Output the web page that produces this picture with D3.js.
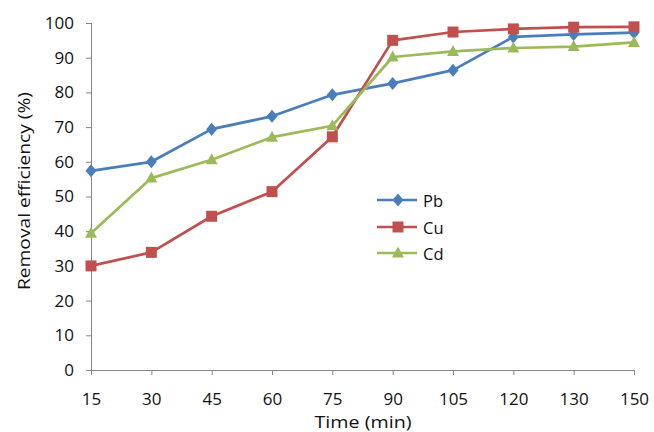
<!DOCTYPE html>
<html><head><meta charset="utf-8">
<script src="https://cdn.jsdelivr.net/npm/d3@7"></script>
<style>body{margin:0;background:#fff}svg{display:block}</style>
</head><body>
<script>
const times = ["15","30","45","60","75","90","105","120","130","150"];
const pb = [57.4, 60.0, 69.4, 73.1, 79.3, 82.6, 86.4, 96.0, 96.7, 97.2];
const cu = [30.0, 33.9, 44.3, 51.4, 67.2, 95.0, 97.4, 98.3, 98.8, 98.9];
const cd = [39.4, 55.3, 60.6, 67.1, 70.4, 90.2, 91.8, 92.8, 93.2, 94.4];
const yTicks = [0,10,20,30,40,50,60,70,80,90,100];
const seriesNames = ["Pb","Cu","Cd"];
const colors = ["#4A7EBB","#C0504D","#9BBB59"];
const seriesVals = [pb, cu, cd];

const diamond = { draw(ctx) { ctx.moveTo(0,-6.5); ctx.lineTo(5.5,0); ctx.lineTo(0,6.5); ctx.lineTo(-5.5,0); ctx.closePath(); } };
const square = { draw(ctx) { ctx.rect(-5.5,-5.5,11,11); } };
const triangle = { draw(ctx) { ctx.moveTo(0,-6.5); ctx.lineTo(6,4.5); ctx.lineTo(-6,4.5); ctx.closePath(); } };
const symbols = [diamond, square, triangle];

const W = 654, H = 432;
const svg = d3.select("body").append("svg").attr("width", W).attr("height", H);
const font = "'Open Sans', sans-serif";

const x = d3.scalePoint().domain(times).range([91, 634]).padding(0);
const y = d3.scaleLinear().domain([0, 100]).range([370, 23]);

const axisColor = "#868686";
const yAxis = svg.append("g").attr("transform", "translate(91,0)")
  .call(d3.axisLeft(y).tickValues(yTicks).tickSize(5).tickPadding(12).tickSizeOuter(0));
const xAxis = svg.append("g").attr("transform", "translate(0,370)")
  .call(d3.axisBottom(x).tickSize(5).tickPadding(18).tickSizeOuter(0));
[yAxis, xAxis].forEach(a => {
  a.selectAll("path, line").attr("stroke", axisColor).attr("stroke-width", 1);
  a.selectAll("text").attr("fill", "#111").style("font-family", font).style("font-size", "17px");
});
xAxis.select("path.domain").attr("d", "M91,0.5H634");
yAxis.select("path.domain").attr("d", "M0.5,23V370");

const line = d3.line().x((d, i) => x(times[i])).y(d => y(d));

seriesVals.forEach((vals, s) => {
  svg.append("path").datum(vals).attr("d", line)
    .attr("fill", "none").attr("stroke", colors[s]).attr("stroke-width", 2.7)
    .attr("stroke-linejoin", "round");
});
seriesVals.forEach((vals, s) => {
  svg.append("g").selectAll("path").data(vals).join("path")
    .attr("d", d3.symbol().type(symbols[s]))
    .attr("transform", (d, i) => `translate(${x(times[i])},${y(d)})`)
    .attr("fill", colors[s]);
});

// legend
const legY = [200, 227, 253];
seriesNames.forEach((n, s) => {
  const g = svg.append("g").attr("transform", `translate(0,${legY[s]})`);
  g.append("line").attr("x1", 377).attr("x2", 417).attr("y1", 0).attr("y2", 0)
    .attr("stroke", colors[s]).attr("stroke-width", 2.7);
  g.append("path").attr("d", d3.symbol().type(symbols[s]))
    .attr("transform", "translate(398,0)").attr("fill", colors[s]);
  g.append("text").attr("x", 423).attr("y", 6.5).text(n)
    .style("font-family", font).style("font-size", "16.5px").attr("fill", "#111");
});

svg.append("text").attr("transform", "translate(30,191) rotate(-90)")
  .attr("text-anchor", "middle").attr("textLength", 198).attr("lengthAdjust", "spacingAndGlyphs")
  .text("Removal efficiency (%)")
  .style("font-family", font).style("font-size", "17px").attr("fill", "#111");
svg.append("text").attr("x", 363).attr("y", 428).attr("text-anchor", "middle")
  .attr("textLength", 97).attr("lengthAdjust", "spacingAndGlyphs")
  .text("Time (min)").style("font-family", font).style("font-size", "17px").attr("fill", "#111");
</script>
</body></html>
